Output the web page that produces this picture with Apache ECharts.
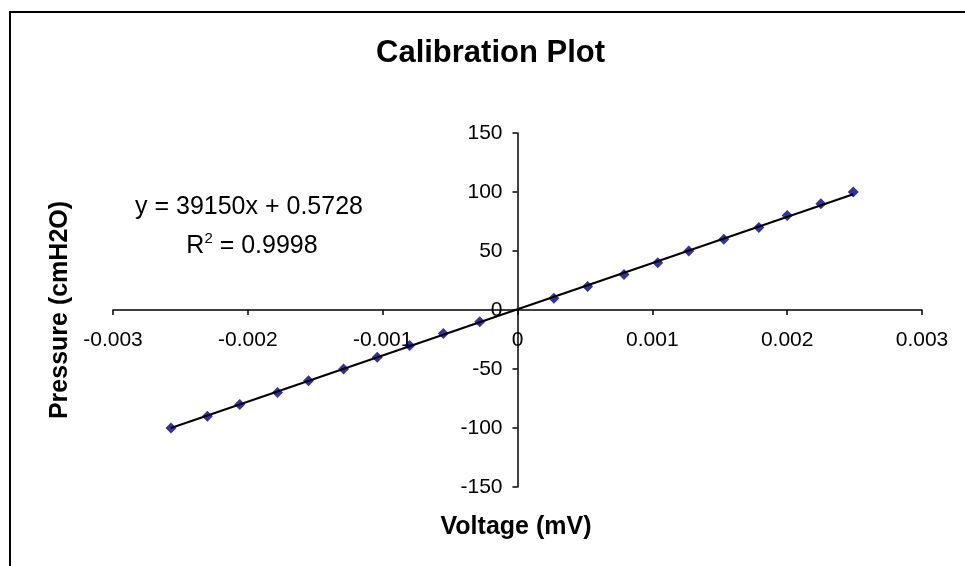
<!DOCTYPE html>
<html>
<head>
<meta charset="utf-8">
<script src="https://cdn.jsdelivr.net/npm/echarts@6/dist/echarts.min.js"></script>
<style>
html,body{margin:0;padding:0;background:#fff;}
#chart{width:965px;height:566px;}
</style>
</head>
<body>
<div id="chart"></div>
<script>
// Data
const voltage = [-0.00257, -0.00230, -0.00206, -0.00178, -0.00155, -0.00129, -0.00104, -0.00080, -0.00055, -0.00028,
                 0.00027, 0.00052, 0.00079, 0.00104, 0.00127, 0.00153, 0.00179, 0.00200, 0.00225, 0.00249];
const pressure = [-100, -90, -80, -70, -60, -50, -40, -30, -20, -10,
                  10, 20, 30, 40, 50, 60, 70, 80, 90, 100];
// Linear trendline as printed on the chart
const trendSlope = 39150;
const trendIntercept = 0.5728;
const equationText = 'y = 39150x + 0.5728';
const r2Value = '0.9998';
const titleText = 'Calibration Plot';
const xName = 'Voltage (mV)';
const yName = 'Pressure (cmH2O)';
const xRange = [-0.003, 0.003], xStep = 0.001;
const yRange = [-150, 150], yStep = 50;

const points = voltage.map((v, i) => [v, pressure[i]]);
const xMin = Math.min(...voltage), xMax = Math.max(...voltage);
const trend = [[xMin, trendSlope * xMin + trendIntercept], [xMax, trendSlope * xMax + trendIntercept]];

// grid box
const G = {left: 113, right: 43, top: 133, bottom: 79};
const W = 965, H = 566;
const gw = W - G.left - G.right, gh = H - G.top - G.bottom;
// axes cross at zero: shift each axis from its grid edge to the other axis' zero
const xAxisOffset = -(gh * (0 - yRange[0]) / (yRange[1] - yRange[0]));
const yAxisOffset = -(gw * (0 - xRange[0]) / (xRange[1] - xRange[0]));

const FONT = '"Liberation Sans", Arial, sans-serif';
const chart = echarts.init(document.getElementById('chart'), null, {renderer: 'canvas'});
chart.setOption({
  backgroundColor: '#fff',
  animation: false,
  title: {
    text: titleText,
    left: 376, top: 38, padding: 0,
    textStyle: {fontFamily: FONT, fontSize: 31, fontWeight: 'bold', color: '#000'}
  },
  grid: {left: G.left, right: G.right, top: G.top, bottom: G.bottom, containLabel: false},
  xAxis: {
    type: 'value', min: xRange[0], max: xRange[1], interval: xStep,
    position: 'bottom', offset: xAxisOffset,
    axisLine: {onZero: false, lineStyle: {color: '#000', width: 1.5}},
    axisTick: {show: true, length: 5, lineStyle: {color: '#000', width: 1.5}},
    splitLine: {show: false},
    axisLabel: {
      margin: 20, fontFamily: FONT, fontSize: 21, color: '#000',
      formatter: v => Math.abs(v) < 1e-9 ? '0' : v.toFixed(3)
    }
  },
  yAxis: {
    type: 'value', min: yRange[0], max: yRange[1], interval: yStep,
    position: 'left', offset: yAxisOffset,
    axisLine: {onZero: false, lineStyle: {color: '#000', width: 1.5}},
    axisTick: {show: true, length: 5, lineStyle: {color: '#000', width: 1.5}},
    splitLine: {show: false},
    axisLabel: {margin: 15, fontFamily: FONT, fontSize: 21, color: '#000'}
  },
  series: [
    {
      type: 'scatter', data: points, symbol: 'diamond', symbolSize: 11,
      itemStyle: {color: '#000080'}, z: 2
    },
    {
      type: 'line', data: trend, symbol: 'none',
      lineStyle: {color: '#000', width: 2}, z: 3, silent: true
    }
  ],
  graphic: [
    {type: 'rect', shape: {x: 10, y: 12, width: 1000, height: 700}, style: {fill: 'none', stroke: '#000', lineWidth: 2}, z: 0, silent: true},
    {type: 'text', x: 516, y: 527, style: {text: xName, font: 'bold 25px ' + FONT, fill: '#000', textAlign: 'center', textVerticalAlign: 'middle'}},
    {type: 'text', x: 60, y: 310, rotation: Math.PI / 2, style: {text: yName, font: 'bold 25px ' + FONT, fill: '#000', textAlign: 'center', textVerticalAlign: 'middle'}},
    {type: 'text', x: 249, y: 207, style: {text: equationText, font: '25px ' + FONT, fill: '#000', textAlign: 'center', textVerticalAlign: 'middle'}},
    {type: 'text', x: 252, y: 245, style: {
      text: '{r|R}{s|2}{r| = ' + r2Value + '}',
      textAlign: 'center', textVerticalAlign: 'middle',
      rich: {
        r: {fontFamily: FONT, fontSize: 25, fill: '#000', color: '#000', verticalAlign: 'bottom', lineHeight: 28},
        s: {fontFamily: FONT, fontSize: 15, fill: '#000', color: '#000', verticalAlign: 'top', lineHeight: 28}
      }
    }}
  ]
});
</script>
</body>
</html>
